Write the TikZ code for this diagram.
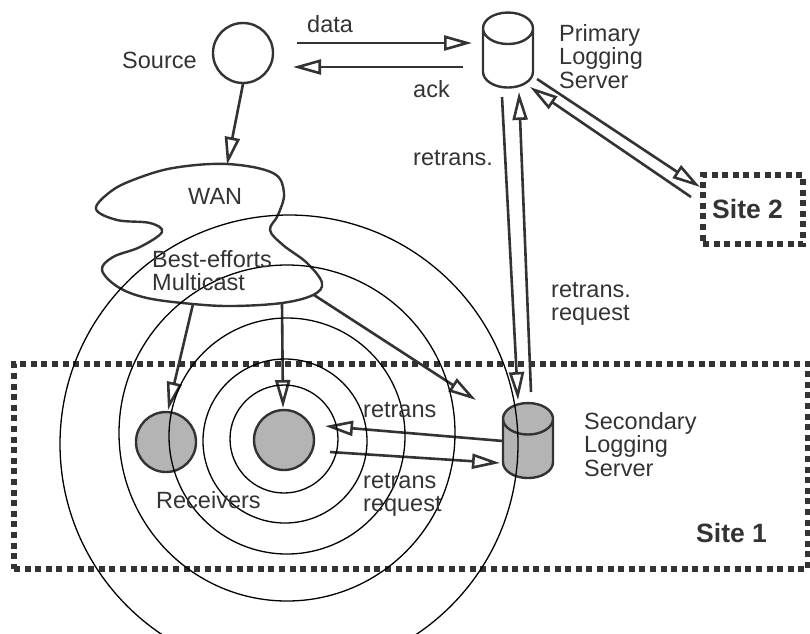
\documentclass[tikz,border=0pt]{standalone}
\usepackage{fontspec}
\setmainfont{Liberation Sans}
\usetikzlibrary{arrows.meta,shapes.geometric}
\definecolor{inkgray}{HTML}{333333}
\definecolor{shadegray}{HTML}{B4B4B4}
\newcommand{\diskbody}{\phantom{\rule{35pt}{20pt}}}
\tikzset{
	textlabel/.style={inner sep=0pt,anchor=base west,text=inkgray,font=\fontsize{23.5}{23.5}\selectfont},
	blocklabel/.style={textlabel,align=left,anchor=north west},
	sitelabel/.style={textlabel,font=\fontsize{26.5}{26.5}\selectfont\bfseries},
	host/.style={circle,draw=inkgray,line width=2.4pt,inner sep=0pt,minimum size=60pt},
	receiver/.style={host,fill=shadegray},
	disk/.style={cylinder,shape border rotate=90,aspect=0.9,draw=inkgray,line width=2.4pt,inner sep=0pt,minimum width=50pt,minimum height=75pt},
	sitebox/.style={rectangle,draw=inkgray,line width=5.5pt,dash pattern=on 6pt off 4.6pt,inner sep=0pt},
	link/.style={draw=inkgray,line width=2.6pt,-{Triangle[open,length=28pt,width=15pt,line width=2.6pt]}},
	rangering/.style={black,line width=1.3pt}
}
\begin{document}
\begin{tikzpicture}[x=1pt,y=-1pt]
	\useasboundingbox (0,0) rectangle (810,633);
	\clip (0,0) rectangle (810,633);

	% site frames
	\node[sitebox,minimum width=794pt,minimum height=205pt] (siteone) at (411,466.5) {};
	\node[sitebox,minimum width=100pt,minimum height=69pt] (sitetwo) at (753,209.5) {};
	\node[sitelabel] (sitetwolabel) at (712,218) {Site 2};
	\node[sitelabel] (siteonelabel) at (696,542) {Site 1};

	% hosts
	\node[host] (source) at (243,53) {};
	\node[receiver] (recvleft) at (166,442) {};
	\node[receiver] (recvmid) at (284,440) {};
	\node[disk] (primary) at (508,58.5) {\diskbody};
	\node[disk,fill=shadegray] (secondary) at (528,449) {\diskbody};

	% WAN cloud
	\draw[draw=inkgray,line width=2.4pt] plot[smooth cycle,tension=0.6] coordinates {
		(227,164) (273,173) (284,193) (278,215) (270,230) (283,245) (307,263) (322,283)
		(313,295) (282,303) (233,306) (193,304) (147,298) (118,287) (102,270) (113,257)
		(140,247) (162,232) (150,223) (117,220) (96,209) (110,192) (133,180) (173,168)};

	% free ends of the connectors
	\coordinate (datastart) at (297,43);
	\coordinate (dataend) at (472,43);
	\coordinate (ackstart) at (463,67);
	\coordinate (ackend) at (293,67);
	\coordinate (sourceout) at (243,84);
	\coordinate (wantop) at (227,165);
	\coordinate (wanleft) at (193,304);
	\coordinate (wanmid) at (282,304);
	\coordinate (wanright) at (314,295);
	\coordinate (leftin) at (168,410);
	\coordinate (midin) at (283,408);
	\coordinate (secin) at (476,400);
	\coordinate (downstart) at (502,97);
	\coordinate (downend) at (518,400);
	\coordinate (upstart) at (531,392);
	\coordinate (upend) at (519,92);
	\coordinate (twostart) at (537,79);
	\coordinate (twoend) at (700,187);
	\coordinate (backstart) at (691,197);
	\coordinate (backend) at (530,87);
	\coordinate (retransstart) at (503,441);
	\coordinate (retransend) at (325,426);
	\coordinate (reqstart) at (330,452);
	\coordinate (reqend) at (500,463);

	% connectors
	\draw[link] (datastart) -- (dataend);
	\draw[link] (ackstart) -- (ackend);
	\draw[link] (sourceout) -- (wantop);
	\draw[link] (wanleft) -- (leftin);
	\draw[link] (wanmid) -- (midin);
	\draw[link] (wanright) -- (secin);
	\draw[link] (downstart) -- (downend);
	\draw[link] (upstart) -- (upend);
	\draw[link] (twostart) -- (twoend);
	\draw[link] (backstart) -- (backend);
	\draw[link] (retransstart) -- (retransend);
	\draw[link] (reqstart) -- (reqend);

	% multicast range
	\foreach \cx/\cy/\r in {284/439/54,285/441/82,287/436/118,287/433/168,289/444/229}
	\draw[rangering] (\cx,\cy) circle (\r);

	% labels
	\node[textlabel] (datalabel) at (307,32) {data};
	\node[textlabel] (acklabel) at (413,97) {ack};
	\node[textlabel] (sourcelabel) at (122,68) {Source};
	\node[textlabel] (wanlabel) at (188,204) {WAN};
	\node[textlabel] (retranslabel) at (413,165) {retrans.};
	\node[textlabel] (retranslow) at (363,417) {retrans};
	\node[textlabel] (receiverslabel) at (156,508) {Receivers};
	\node[blocklabel] (primarylabel) at (559,24) {Primary\\Logging\\Server};
	\node[blocklabel] (secondarylabel) at (584,412) {Secondary\\Logging\\Server};
	\node[blocklabel] (effortslabel) at (152,250) {Best-efforts\\Multicast};
	\node[blocklabel] (requestlabel) at (551,282) {retrans.\\request};
	\node[blocklabel] (requestlow) at (363,473) {retrans\\request};
\end{tikzpicture}
\end{document}
